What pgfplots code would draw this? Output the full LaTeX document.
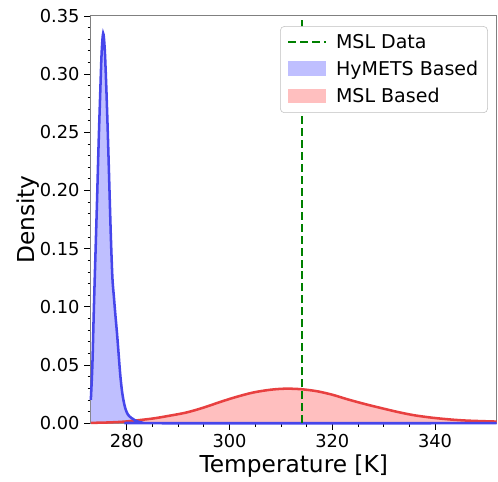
\documentclass[border=0pt]{standalone}
\usepackage{pgfplots}
\pgfplotsset{compat=1.18}
\usepackage{fontspec}
\setmainfont{DejaVu Sans}
\definecolor{mplgreen}{RGB}{0,128,0}
\definecolor{blueline}{RGB}{70,70,235}
\definecolor{bluefill}{RGB}{191,191,255}
\definecolor{redline}{RGB}{232,64,64}
\definecolor{redfill}{RGB}{255,191,191}
\pgfplotsset{
  legfill/.style={legend image code/.code={\path[##1, draw=none, sharp corners] (0pt,-5pt) rectangle (28pt,6pt); \path (33pt,0pt);}},
  legline/.style={legend image code/.code={\draw[##1, sharp corners] (0pt,0.5pt) -- (28pt,0.5pt); \path (33pt,0pt);}},
}
\begin{document}
\begin{tikzpicture}
\begin{axis}[
  scale only axis,
  width=305pt, height=306pt,
  xmin=273, xmax=352, ymin=0, ymax=0.35,
  xtick={280,300,320,340},
  ytick={0,0.05,0.10,0.15,0.20,0.25,0.30,0.35},
  minor x tick num=3,
  minor y tick num=4,
  tick align=outside,
  major tick length=5pt,
  minor tick length=2.5pt,
  tick style={black, line width=0.7pt},
  minor tick style={black, line width=0.6pt},
  xtick pos=bottom, ytick pos=left,
  axis line style={gray, line width=0.8pt},
  /pgf/number format/assume math mode=true,
  yticklabel style={/pgf/number format/fixed, /pgf/number format/fixed zerofill, /pgf/number format/precision=2},
  scaled y ticks=false,
  ticklabel style={font=\fontsize{13.4}{16}\selectfont},
  xlabel={Temperature [K]},
  ylabel={Density},
  label style={font=\fontsize{17.5}{21}\selectfont},
  xlabel style={yshift=2pt},
  ylabel style={yshift=-6.5pt},
  legend style={at={(rel axis cs:0.978,0.975)}, anchor=north east, font=\fontsize{14.3}{17}\selectfont,
    draw=gray!50, rounded corners=3pt, inner xsep=5pt, inner ysep=4pt, row sep=4pt},
  legend cell align=left,
  clip=false,
]
\addlegendimage{legline, mplgreen, line width=1.8pt, dash pattern=on 6pt off 3pt}
\addlegendentry{MSL Data}
\addlegendimage{legfill, fill=bluefill}
\addlegendentry{HyMETS Based}
\addlegendimage{legfill, fill=redfill}
\addlegendentry{MSL Based}

% fills
\addplot[fill=bluefill, draw=none, smooth, forget plot] coordinates {
(273.0,0.020)(273.3,0.050)(273.6,0.100)(273.9,0.145)(274.2,0.190)(274.5,0.238)(274.8,0.280)(275.1,0.318)(275.4,0.335)(275.7,0.322)(276.0,0.290)(276.3,0.250)(276.6,0.205)(276.9,0.160)(277.2,0.125)(277.5,0.108)(277.8,0.092)(278.1,0.077)(278.4,0.060)(278.7,0.043)(279.0,0.030)(279.3,0.021)(279.7,0.013)(280.2,0.0075)(280.9,0.0045)(281.5,0.0028)(282.1,0.0015)(283.0,0.0005)(284.0,0.0)(352,0)} \closedcycle;
\addplot[fill=redfill, draw=none, smooth, forget plot] coordinates {
(273,0.0003)(276,0.0006)(279,0.0012)(281,0.002)(285,0.004)(288,0.0062)(291.6,0.0092)(295,0.0135)(298,0.018)(301,0.0222)(304.5,0.0263)(308,0.0288)(311,0.0297)(314,0.0292)(317,0.0275)(320,0.0245)(323,0.0205)(326.5,0.0163)(330,0.0125)(333,0.0094)(336,0.0068)(339.5,0.0047)(343,0.0032)(346,0.0023)(349,0.0018)(352,0.0014)} \closedcycle;
% lines
\addplot[redline, line width=1.9pt, smooth, forget plot] coordinates {
(273,0.0003)(276,0.0006)(279,0.0012)(281,0.002)(285,0.004)(288,0.0062)(291.6,0.0092)(295,0.0135)(298,0.018)(301,0.0222)(304.5,0.0263)(308,0.0288)(311,0.0297)(314,0.0292)(317,0.0275)(320,0.0245)(323,0.0205)(326.5,0.0163)(330,0.0125)(333,0.0094)(336,0.0068)(339.5,0.0047)(343,0.0032)(346,0.0023)(349,0.0018)(352,0.0014)};
\addplot[blueline, line width=1.9pt, smooth, forget plot] coordinates {
(273.0,0.020)(273.3,0.050)(273.6,0.100)(273.9,0.145)(274.2,0.190)(274.5,0.238)(274.8,0.280)(275.1,0.318)(275.4,0.335)(275.7,0.322)(276.0,0.290)(276.3,0.250)(276.6,0.205)(276.9,0.160)(277.2,0.125)(277.5,0.108)(277.8,0.092)(278.1,0.077)(278.4,0.060)(278.7,0.043)(279.0,0.030)(279.3,0.021)(279.7,0.013)(280.2,0.0075)(280.9,0.0045)(281.5,0.0028)(282.1,0.0015)(283.0,0.0005)(284.0,0.0)(352,0)};
\addplot[mplgreen, line width=1.8pt, dash pattern=on 6pt off 3pt, forget plot] coordinates {(314.1,0)(314.1,0.35)};
\coordinate (bl) at (rel axis cs:0,0);
\coordinate (tr) at (rel axis cs:1,1);
\end{axis}
\path (bl) ++(-68.25pt,-42pt);
\path (tr) ++(0pt,12pt);
\end{tikzpicture}
\end{document}
